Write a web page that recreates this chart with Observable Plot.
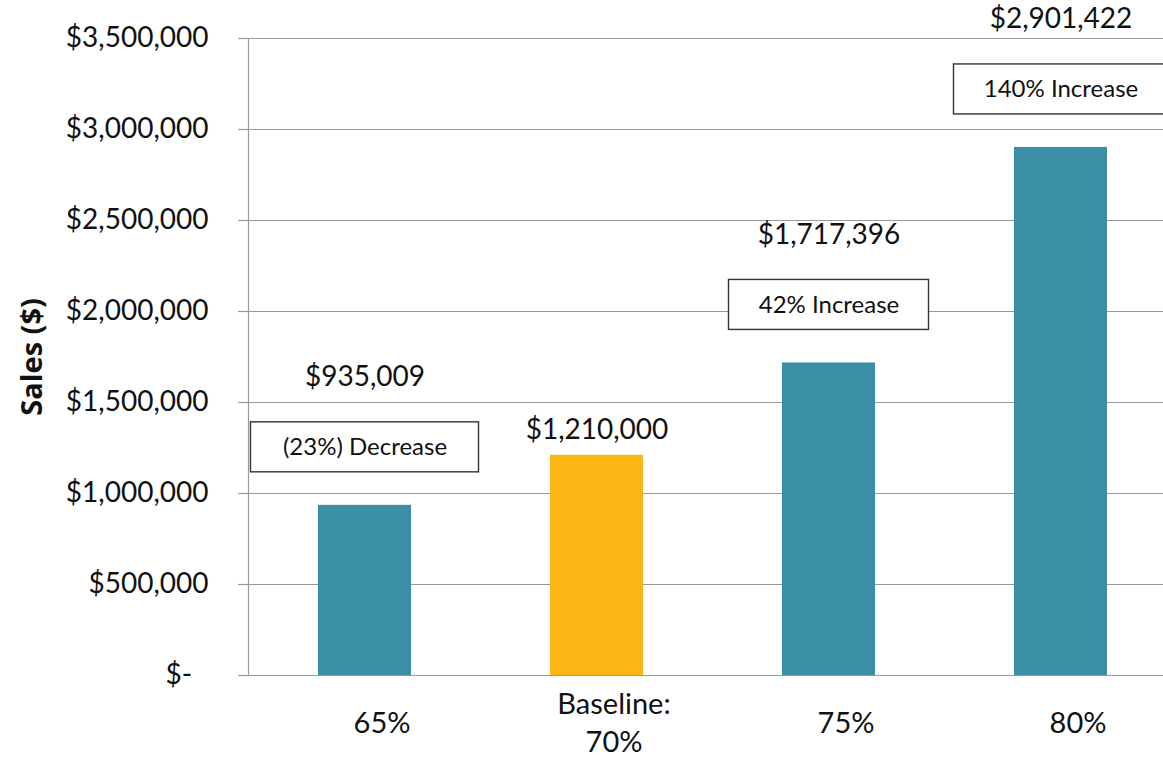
<!DOCTYPE html>
<html><head><meta charset="utf-8">
<script src="https://cdn.jsdelivr.net/npm/d3@7"></script>
<script src="https://cdn.jsdelivr.net/npm/@observablehq/plot@0.6"></script>
<style>body{margin:0;background:#fff} svg{display:block}</style>
</head><body><div id="chart"></div>
<script>
const categories = ["65%", "70%", "75%", "80%"];
const xLabels = ["65%", "Baseline:\n70%", "75%", "80%"];
const sales = [935009, 1210000, 1717396, 2901422];
const changes = ["(23%) Decrease", null, "42% Increase", "140% Increase"];
const roles = ["scenario", "baseline", "scenario", "scenario"];
const yTicks = [0, 500000, 1000000, 1500000, 2000000, 2500000, 3000000, 3500000];

const teal = "#3a8fa5", gold = "#fdb714", grid = "#9a9a9a";
const font = "'Gill Sans', 'Gill Sans MT', Lato, sans-serif";
const data = categories.map((c, i) => ({cat: c, label: xLabels[i], value: sales[i], change: changes[i], role: roles[i]}));
const money = d => d === 0 ? "$-\u2007" : "$" + d3.format(",")(d);

const boxGap = 33, boxH = 50, labelGap = 45;
const boxes = data.filter(d => d.change).map(d => {
  const w = (d.change.length * 14 + 32) / 2 - 46.5;
  return Plot.rect([d], {x: "cat", y1: "value", y2: "value", insetBottom: boxGap, insetTop: -(boxGap + boxH),
    insetLeft: -w, insetRight: -w, fill: "white", stroke: "#333", strokeWidth: 1.4});
});

const chart = Plot.plot({
  width: 1163, height: 760,
  marginLeft: 248, marginRight: 0, marginTop: 38, marginBottom: 85,
  style: {fontFamily: font, background: "white", overflow: "visible"},
  x: {domain: categories, range: [248, 1177], paddingInner: 0.6, paddingOuter: 0.3, axis: null},
  y: {domain: [0, 3500000], axis: null},
  color: {domain: ["scenario", "baseline"], range: [teal, gold]},
  marks: [
    Plot.gridY(yTicks, {stroke: grid, strokeOpacity: 1, strokeWidth: 1.2}),
    Plot.axisY(yTicks, {tickSize: 10, tickPadding: 30, stroke: grid, strokeWidth: 1.2, tickFormat: money, fontSize: 28, fill: "#111", label: null}),
    Plot.frame({anchor: "left", stroke: grid, strokeWidth: 1.2}),
    Plot.barY(data, {x: "cat", y: "value", fill: "role"}),
    ...boxes,
    Plot.text(data.filter(d => d.change), {x: "cat", y: "value", dy: -(boxGap + boxH / 2), text: "change", fontSize: 24, fill: "#111", lineAnchor: "middle"}),
    Plot.text(data.filter(d => d.change), {x: "cat", y: "value", dy: -(boxGap + boxH + labelGap), text: d => money(d.value), fontSize: 28, fill: "#111", lineAnchor: "middle"}),
    Plot.text(data.filter(d => !d.change), {x: "cat", y: "value", dy: -25, text: d => money(d.value), fontSize: 28, fill: "#111", lineAnchor: "middle"}),
    Plot.text(data, {x: "cat", frameAnchor: "bottom", dy: 45, dx: 17, text: "label", fontSize: 29, lineHeight: 1.33, lineAnchor: "middle", fill: "#111"}),
    Plot.text(["Sales ($)"], {frameAnchor: "left", dx: -216, rotate: -90, textAnchor: "middle", text: d => d, fontSize: 29, fontWeight: "bold", fontFamily: "'Open Sans', sans-serif", fill: "#111"})
  ]
});
document.getElementById("chart").append(chart);
</script>
</body></html>
